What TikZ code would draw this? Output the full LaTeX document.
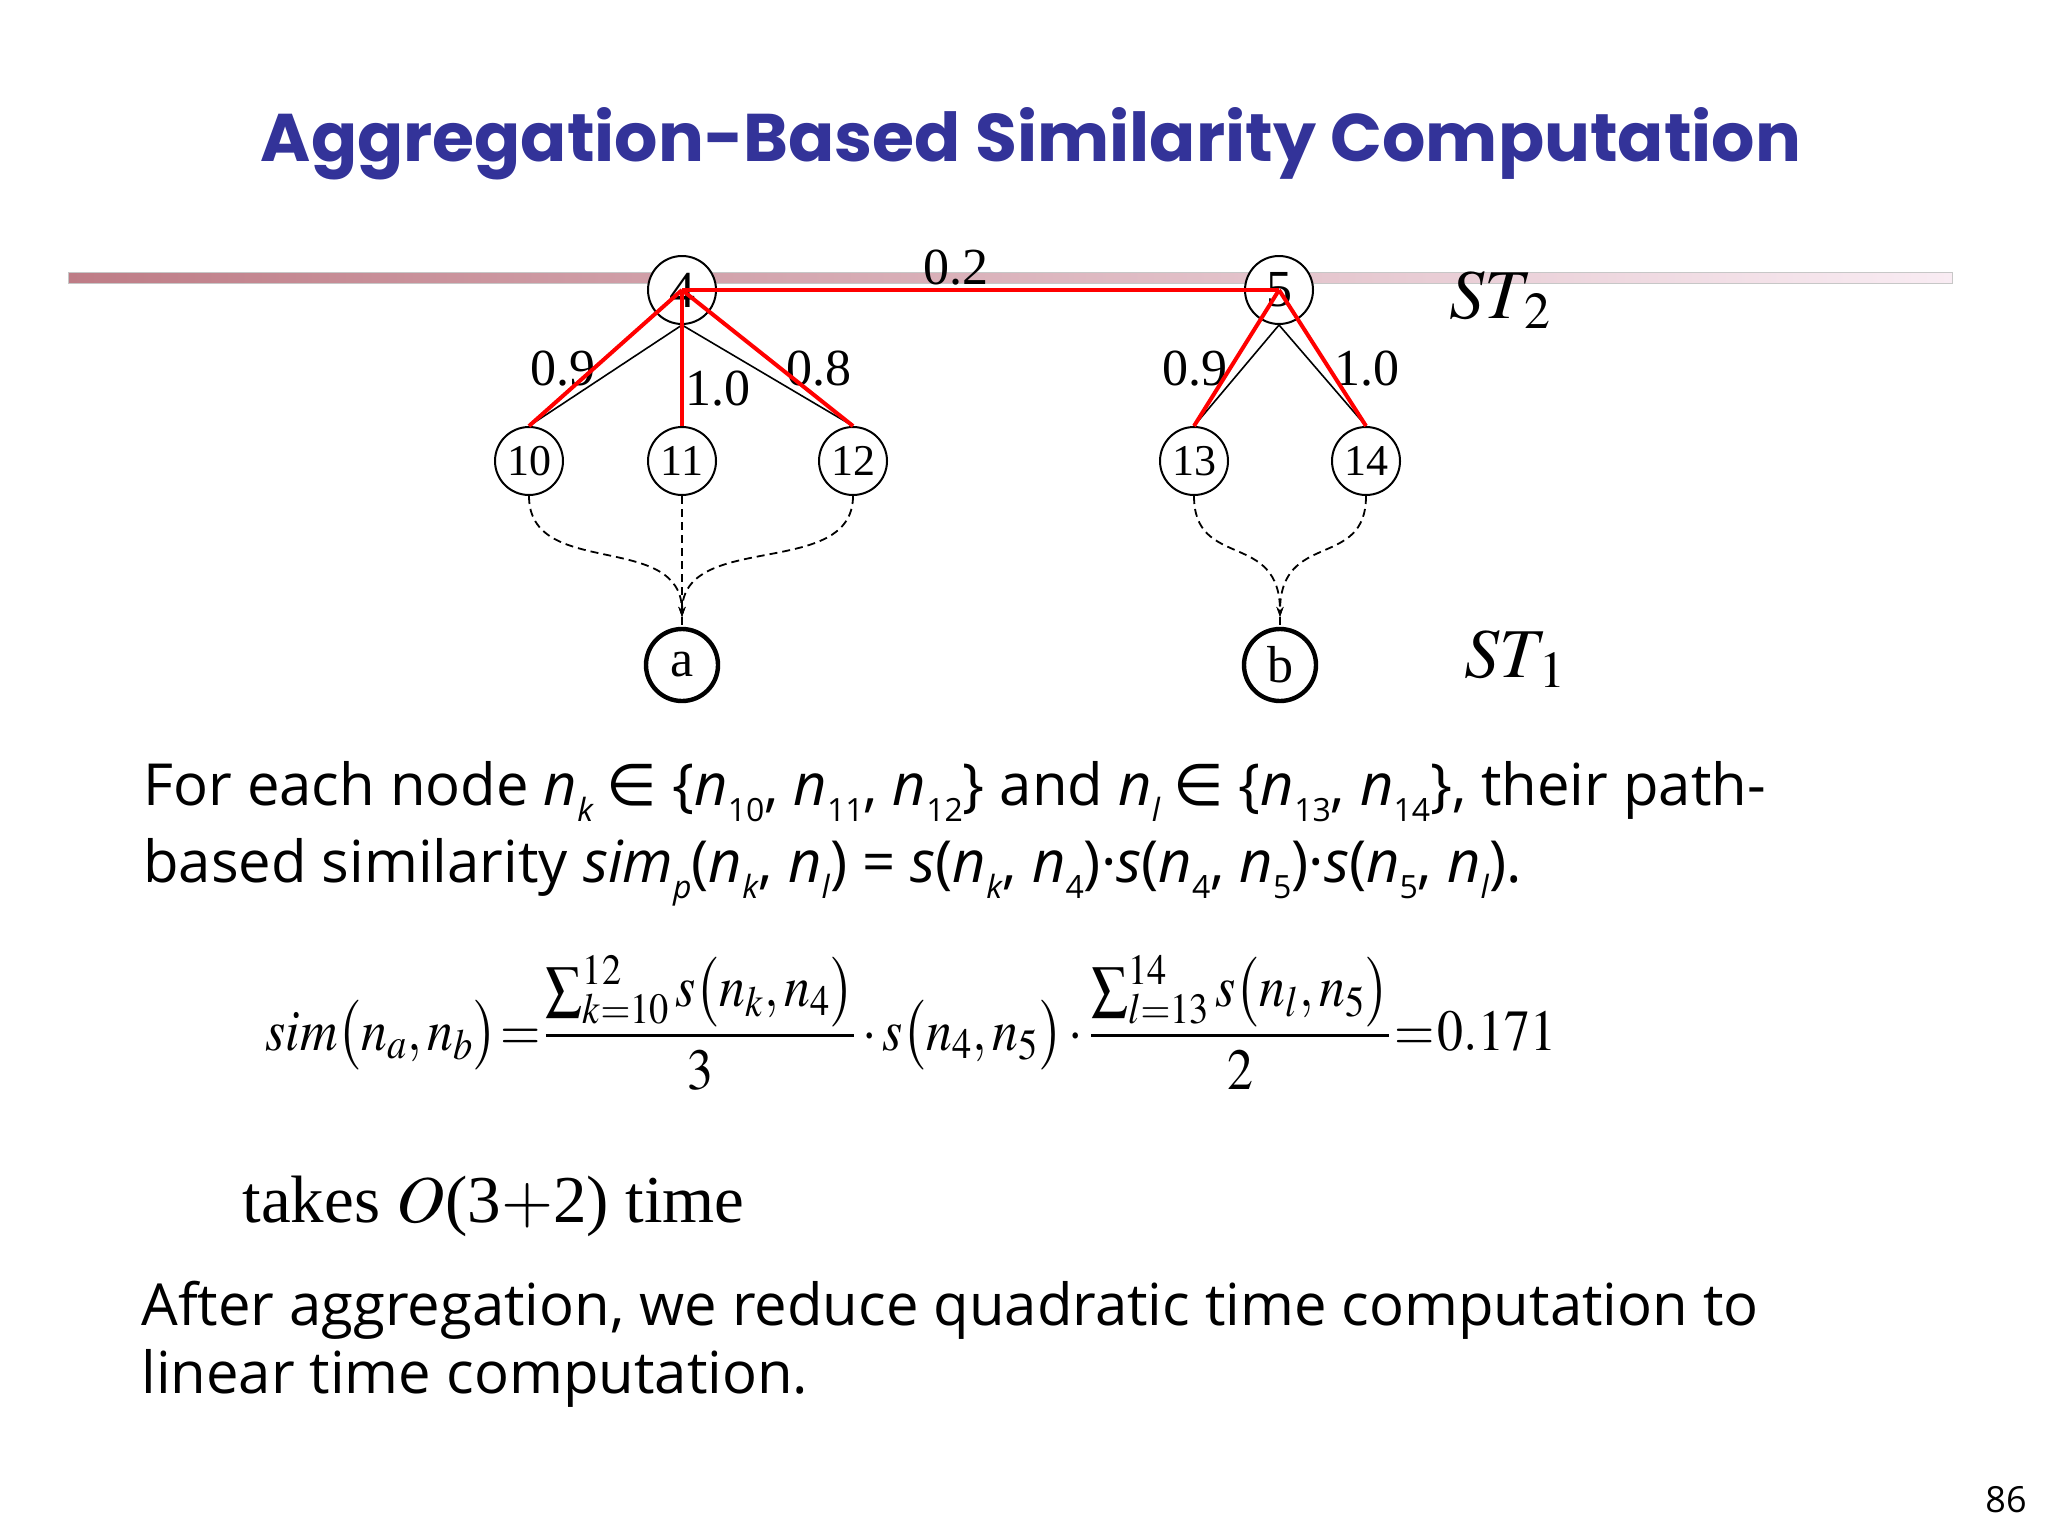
\documentclass[tikz,border=0pt]{standalone}
\usepackage{mathptmx}
\usepackage[no-math]{fontspec}
\setmainfont{Liberation Serif}
\newfontfamily\osans{Open Sans}
\newfontfamily\titlefont{Poppins}
\newfontfamily\dejavu{DejaVu Sans}
\usetikzlibrary{arrows.meta}
\definecolor{titleblue}{RGB}{51,51,153}
\definecolor{barleft}{RGB}{190,124,134}
\definecolor{barright}{RGB}{249,236,243}
\definecolor{edgered}{RGB}{255,0,0}
\newcommand\nsub[1]{\textit{n}\raisebox{-0.28em}{\fontsize{16}{16}\selectfont #1}}
\newcommand\lsub[1]{\raisebox{-0.28em}{\fontsize{16}{16}\selectfont #1}}
\newcommand\elem{\kern0.22em{\dejavu ∈}}
\begin{document}
\begin{tikzpicture}[x=0.5pt,y=-0.5pt,
  tn/.style={circle,draw,line width=1pt,fill=white,minimum size=34pt,inner sep=0pt,font=\fontsize{22}{22}\selectfont},
  rn/.style={tn,font=\fontsize{26}{26}\selectfont},
  leaf/.style={circle,draw,line width=2.2pt,fill=white,minimum size=36pt,inner sep=0pt,font=\fontsize{26}{26}\selectfont},
  wlab/.style={font=\fontsize{26}{26}\selectfont,inner sep=0pt},
  blk/.style={line width=0.8pt},
  redl/.style={edgered,line width=2pt},
  dsh/.style={dash pattern=on 4pt off 2.5pt,line width=0.9pt},
  tip/.style={-{Stealth[length=5pt,width=3.5pt]}},
  para/.style={anchor=base west,inner sep=0pt,font=\osans\fontsize{29}{34}\selectfont},
  stl/.style={anchor=base west,inner sep=0pt,font=\fontsize{35}{35}\selectfont}]
\useasboundingbox (0,0) rectangle (2048,1536);
% title
\node[anchor=base,inner sep=0pt,text=titleblue] (title) at (1031,162)
  {\resizebox{770pt}{27pt}{\titlefont\bfseries Aggregation-Based Similarity Computation}};
% bar
\node[rectangle,minimum width=942pt,minimum height=5.5pt,inner sep=0pt,
  left color=barleft,right color=barright,draw=black!22,line width=0.3pt] (bar) at (1010,277.5) {};
% nodes
\node[rn] (n4) at (682,290) {4};
\node[rn] (n5) at (1279,290) {5};
\node[tn] (n10) at (529,461) {10};
\node[tn] (n11) at (682,461) {11};
\node[tn] (n12) at (853,461) {12};
\node[tn] (n13) at (1194,461) {13};
\node[tn] (n14) at (1366,461) {14};
\node[leaf] (a) at (682,665) {a};
\node[leaf] (b) at (1280,665) {b};
% labels
\node[wlab] (w02) at (956,268) {0.2};
\node[wlab] (w49) at (563,369) {0.9};
\node[wlab] (w41) at (718,389) {1.0};
\node[wlab] (w48) at (819,369) {0.8};
\node[wlab] (w59) at (1195,369) {0.9};
\node[wlab] (w51) at (1367,369) {1.0};
\node[stl] (st2) at (1449,318) {$ST_{\,2}$};
\node[stl] (st1) at (1464,677) {$ST_{\,1}$};
% black tree edges
\draw[blk] (n4.south) -- (n10.north);
\draw[blk] (n4.south) -- (n11.north);
\draw[blk] (n4.south) -- (n12.north);
\draw[blk] (n5.south) -- (n13.north);
\draw[blk] (n5.south) -- (n14.north);
% red path edges
\draw[redl] (n4.center) -- (n5.center);
\draw[redl] (n4.center) -- (n10.north);
\draw[redl] (n4.center) -- (n11.north);
\draw[redl] (n4.center) -- (n12.north);
\draw[redl] (n5.center) -- (n13.north);
\draw[redl] (n5.center) -- (n14.north);
% dashed mappings
\coordinate (aj) at (682,617);
\coordinate (bj) at (1280,617);
\draw[dsh,tip] (n10.south) .. controls (529,580) and (682,530) .. (aj);
\draw[dsh,tip] (n11.south) -- (aj);
\draw[dsh,tip] (n12.south) .. controls (853,580) and (682,530) .. (aj);
\draw[dsh] (aj) -- (a.north);
\draw[dsh,tip] (n13.south) .. controls (1194,570) and (1280,530) .. (bj);
\draw[dsh,tip] (n14.south) .. controls (1366,570) and (1280,530) .. (bj);
\draw[dsh] (bj) -- (b.north);
% text
\node[para] (p1) at (143,805) {For each node \nsub{\textit{k}}\elem{} \{\nsub{10}, \nsub{11}, \nsub{12}\} and \nsub{\textit{l}}\elem{} \{\nsub{13}, \nsub{14}\}, their path-};
\node[para] (p2) at (143,882) {based similarity \textit{sim}\lsub{\textit{p}}(\nsub{\textit{k}}, \nsub{\textit{l}}) = \textit{s}(\nsub{\textit{k}}, \nsub{4})·\textit{s}(\nsub{4}, \nsub{5})·\textit{s}(\nsub{5}, \nsub{\textit{l}}).};
\node[anchor=base west,inner sep=0pt,font=\fontsize{26}{30}\selectfont] (eq) at (265,1050)
  {\scalebox{0.998}[1.12]{\thickmuskip=1mu\medmuskip=2mu$\displaystyle \mathit{sim}\bigl(n_a,n_b\bigr)=\frac{\sum\nolimits_{k=10}^{12} s\bigl(n_k,n_4\bigr)}{3}\cdot s\bigl(n_4,n_5\bigr)\cdot\frac{\sum\nolimits_{l=13}^{14} s\bigl(n_l,n_5\bigr)}{2}=0.171$}};
\node[anchor=base west,inner sep=0pt,font=\fontsize{33.5}{40}\selectfont] (takes) at (242,1222) {takes $O$(3$+$2) time};
\node[para] (a1) at (141,1325) {After aggregation, we reduce quadratic time computation to};
\node[para] (a2) at (141,1393) {linear time computation.};
\node[anchor=base east,inner sep=0pt,font=\osans\fontsize{18}{18}\selectfont] (pg) at (2027,1512) {86};
\end{tikzpicture}
\end{document}
